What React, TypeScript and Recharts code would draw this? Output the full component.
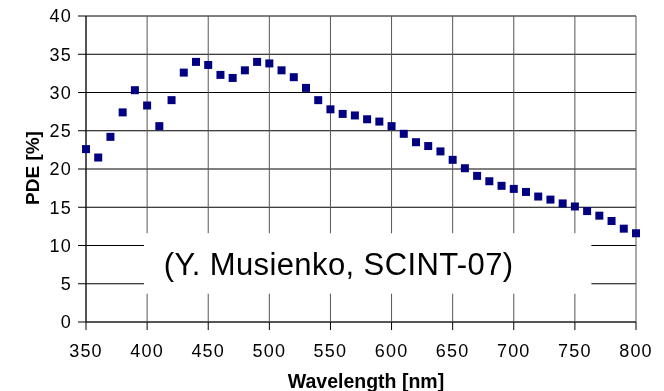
import { ScatterChart, Scatter, XAxis, YAxis, CartesianGrid, ReferenceArea, Label } from "recharts";

const wavelengths = [
  350, 360, 370, 380, 390, 400, 410, 420, 430, 440, 450, 460, 470, 480, 490, 500,
  510, 520, 530, 540, 550, 560, 570, 580, 590, 600, 610, 620, 630, 640, 650, 660,
  670, 680, 690, 700, 710, 720, 730, 740, 750, 760, 770, 780, 790, 800,
];
const pde = [
  22.6, 21.5, 24.2, 27.4, 30.3, 28.3, 25.6, 29.0, 32.6, 34.0, 33.6, 32.3, 31.9, 32.9, 34.0, 33.8,
  32.9, 32.0, 30.6, 29.0, 27.8, 27.2, 27.0, 26.5, 26.2, 25.6, 24.6, 23.5, 23.0, 22.3, 21.2, 20.1,
  19.1, 18.4, 17.8, 17.4, 17.0, 16.4, 16.0, 15.5, 15.1, 14.5, 13.9, 13.2, 12.2, 11.6,
];
const xTicks = [350, 400, 450, 500, 550, 600, 650, 700, 750, 800];
const yTicks = [0, 5, 10, 15, 20, 25, 30, 35, 40];
const noteText = "(Y. Musienko, SCINT-07)";
// white box behind the note, in data units
const noteBox = { x1: 397.5, x2: 763.5, y1: 3.7, y2: 11.6 };

const points = wavelengths.map((w, i) => ({ wl: w, pde: pde[i] }));

const font = "'Liberation Sans', Arial, sans-serif";
const tickStyle = { fill: "#000", fontSize: 18, fontFamily: font, letterSpacing: 1.2 };

const App = () => {
  return (
    <div style={{ position: "fixed", left: 0, top: 0, fontFamily: font }}>
      <ScatterChart width={664} height={391} margin={{ top: 16, right: 28, bottom: 0, left: 0 }}>
        <CartesianGrid stroke="#000" vertical={false} />
        <CartesianGrid stroke="#555" horizontal={false} />
        <XAxis
          type="number"
          dataKey="wl"
          domain={[350, 800]}
          ticks={xTicks}
          height={69}
          stroke="#555"
          strokeWidth={2}
          tickSize={8}
          tickMargin={14}
          tick={tickStyle}
          tickLine={{ stroke: "#000", strokeWidth: 1 }}
        >
          <Label
            content={({ viewBox }: any) => (
              <text
                x={viewBox.x + viewBox.width / 2 + 5}
                y={388}
                textAnchor="middle"
                fontSize={19.5}
                fontWeight="bold"
                fontFamily={font}
                fill="#000"
              >
                Wavelength [nm]
              </text>
            )}
          />
        </XAxis>
        <YAxis
          type="number"
          dataKey="pde"
          domain={[0, 40]}
          ticks={yTicks}
          width={86}
          stroke="#000"
          tickSize={8}
          tickMargin={6}
          tick={tickStyle}
        >
          <Label
            content={({ viewBox }: any) => {
              const cx = viewBox.x + 32;
              const cy = viewBox.y + viewBox.height / 2 - 1;
              return (
                <text
                  x={cx}
                  y={cy}
                  transform={`rotate(-90 ${cx} ${cy})`}
                  textAnchor="middle"
                  dominantBaseline="central"
                  fontSize={19}
                  fontWeight="bold"
                  fontFamily={font}
                  fill="#000"
                >
                  PDE [%]
                </text>
              );
            }}
          />
        </YAxis>
        <ReferenceArea
          x1={noteBox.x1}
          x2={noteBox.x2}
          y1={noteBox.y1}
          y2={noteBox.y2}
          fill="#fff"
          fillOpacity={1}
          stroke="none"
          ifOverflow="visible"
        >
          <Label
            content={({ viewBox }: any) => (
              <text
                x={viewBox.x + viewBox.width / 2 - 29}
                y={viewBox.y + viewBox.height / 2 + 1}
                textAnchor="middle"
                dominantBaseline="central"
                fontSize={31}
                letterSpacing={0.4}
                fontFamily={font}
                fill="#000"
              >
                {noteText}
              </text>
            )}
          />
        </ReferenceArea>
        <Scatter data={points} fill="#000080" shape="square" isAnimationActive={false} />
      </ScatterChart>
    </div>
  );
};

export default App;
